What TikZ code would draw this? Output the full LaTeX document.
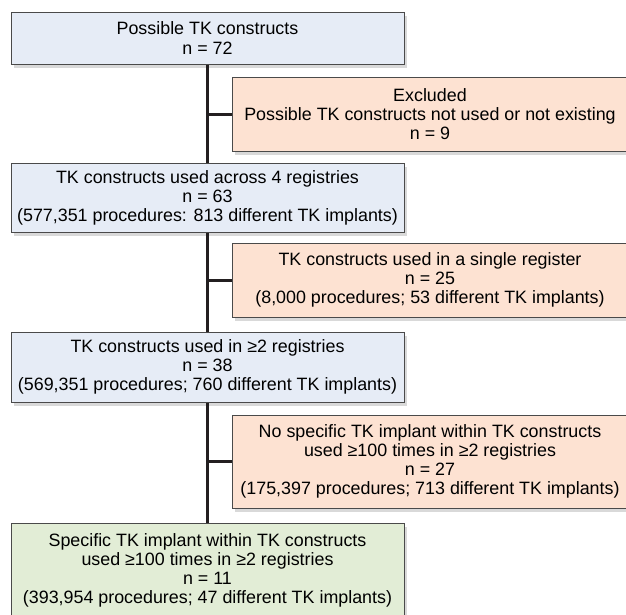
\documentclass[tikz,border=0pt]{standalone}
\usepackage{fontspec}
\setmainfont{Liberation Sans}
\usetikzlibrary{shadows,positioning}
\definecolor{stageblue}{HTML}{E6ECF6}
\definecolor{exclsalmon}{HTML}{FDE2D2}
\definecolor{finalgreen}{HTML}{E2EDD6}
\definecolor{boxline}{HTML}{4A4A4A}
\definecolor{linkblack}{HTML}{231F20}

\begin{document}
\begin{tikzpicture}[x=0.75pt, y=-0.75pt,
  box/.style={draw=boxline, line width=0.75pt, align=center, inner sep=0pt,
    font=\fontsize{13.4}{14.3}\selectfont,
    drop shadow={shadow xshift=2pt, shadow yshift=-3pt, opacity=0.3}},
  stage/.style={box, fill=stageblue, minimum width=294.75pt},
  excluded/.style={box, fill=exclsalmon, minimum width=297pt},
  final/.style={box, fill=finalgreen, minimum width=294.75pt},
  link/.style={line width=2.25pt, draw=linkblack}]
  \useasboundingbox (0,0) rectangle (626,615);

  % The main stages (left column)
  \node[stage, minimum height=39pt] (possible) at (207.5,38) {Possible TK constructs\\n = 72};
  \node[stage, minimum height=51.75pt] (used4) at (207.5,197.5) {TK constructs used across 4 registries\\n = 63\\(577,351 procedures: 813 different TK implants)};
  \node[stage, minimum height=52.5pt] (used2) at (207.5,367) {TK constructs used in ≥2 registries\\n = 38\\(569,351 procedures; 760 different TK implants)};
  \node[final, minimum height=71.25pt] (specific) at (207.5,570.5) {Specific TK implant within TK constructs\\used ≥100 times in ≥2 registries\\n = 11\\(393,954 procedures; 47 different TK implants)};

  % The excluded groups (right column)
  \node[excluded, minimum height=55.5pt] (notused) at (430,114) {Excluded\\Possible TK constructs not used or not existing\\n = 9};
  \node[excluded, minimum height=55.5pt] (single) at (430,280) {TK constructs used in a single register\\n = 25\\(8,000 procedures; 53 different TK implants)};
  \node[excluded, minimum height=69.75pt] (nospecific) at (430,461.5) {No specific TK implant within TK constructs\\used ≥100 times in ≥2 registries\\n = 27\\(175,397 procedures; 713 different TK implants)};

  % Spine
  \draw[link] (possible.south) -- (used4.north);
  \draw[link] (used4.south) -- (used2.north);
  \draw[link] (used2.south) -- (specific.north);

  % Branches to the excluded groups
  \draw[link] (notused.west) -- (notused.west -| possible.south);
  \draw[link] (single.west) -- (single.west -| used4.south);
  \draw[link] (nospecific.west) -- (nospecific.west -| used2.south);

\end{tikzpicture}
\end{document}
